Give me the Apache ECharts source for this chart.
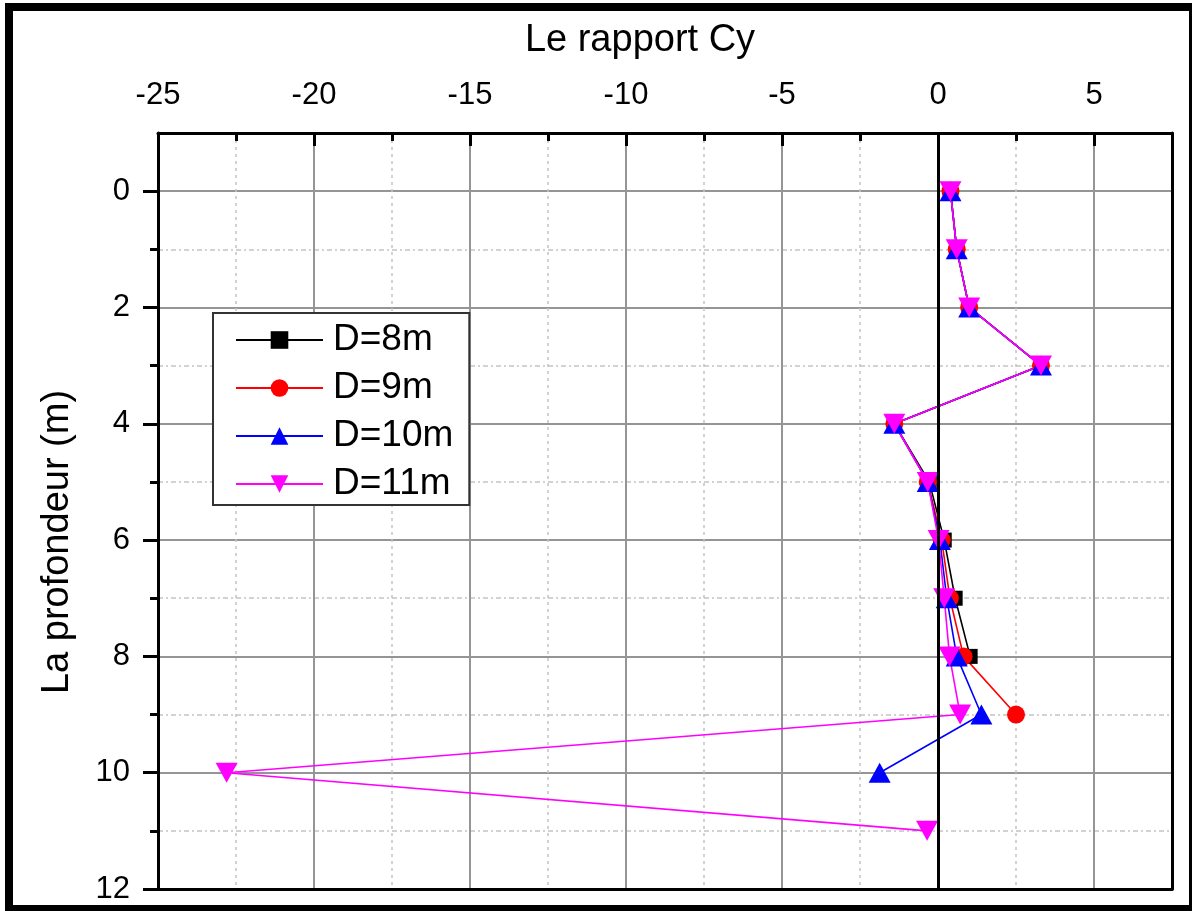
<!DOCTYPE html>
<html>
<head>
<meta charset="utf-8">
<title>Le rapport Cy</title>
<script src="https://cdn.jsdelivr.net/npm/echarts@6/dist/echarts.min.js"></script>
<style>
  html, body { margin: 0; padding: 0; background: #ffffff; }
  #chart { width: 1192px; height: 911px; }
</style>
</head>
<body>
<div id="chart"></div>
<script>
// Depth (m) for every measured level
const depths = [0, 1, 2, 3, 4, 5, 6, 7, 8, 9, 10, 11];

// Cy ratio per pile length D
const cyD8  = [0.40, 0.60, 1.00, 3.30, -1.40, -0.28, 0.20, 0.55, 1.03];
const cyD9  = [0.40, 0.60, 1.00, 3.30, -1.40, -0.33, 0.12, 0.38, 0.82, 2.50];
const cyD10 = [0.40, 0.60, 1.00, 3.30, -1.40, -0.33, 0.06, 0.28, 0.60, 1.39, -1.87];
const cyD11 = [0.40, 0.60, 1.00, 3.30, -1.40, -0.33, 0.02, 0.20, 0.37, 0.71, -22.80, -0.35];

const seriesNames = ['D=8m', 'D=9m', 'D=10m', 'D=11m'];

// Tick positions
const xMajorTicks = [-25, -20, -15, -10, -5, 0, 5];
const xMinorTicks = [-22.5, -17.5, -12.5, -7.5, -2.5, 2.5];
const yMajorTicks = [0, 2, 4, 6, 8, 10, 12];
const yMinorTicks = [1, 3, 5, 7, 9, 11];

const FONT = 'Liberation Sans, Arial, sans-serif';

function pairs(values) {
  return values.map((v, i) => [v, depths[i]]);
}

const chart = echarts.init(document.getElementById('chart'), null, { renderer: 'canvas' });

const majorGrid = { show: true, lineStyle: { color: '#959595', width: 2, type: 'solid' } };
const minorGridH = { show: true, lineStyle: { color: '#c4c4c4', width: 1.5, type: [5, 3, 2, 3] } };
const minorGridV = { show: true, lineStyle: { color: '#c4c4c4', width: 1.5, type: [3, 4] } };

const option = {
  backgroundColor: '#ffffff',
  animation: false,
  textStyle: { fontFamily: FONT },
  grid: { left: 158, top: 133, right: 20, bottom: 22, containLabel: false },
  legend: {
    data: seriesNames,
    orient: 'vertical',
    left: 213,
    top: 313,
    padding: [7, 16, 1, 22],
    itemWidth: 87,
    itemHeight: 22,
    itemGap: 8,
    backgroundColor: '#ffffff',
    borderColor: '#333333',
    borderWidth: 2,
    borderRadius: 0,
    textStyle: { fontSize: 37, lineHeight: 40, color: '#000000', fontFamily: FONT, padding: [0, 0, 0, 5] }
  },
  xAxis: [
    {
      type: 'value', position: 'top', min: -25, max: 7.5, interval: 2.5,
      name: 'Le rapport Cy', nameLocation: 'middle', nameGap: 73, nameMoveOverlap: false,
      nameTextStyle: { fontSize: 38, color: '#000000', fontFamily: FONT, padding: [0, 50, 0, 0] },
      axisLine: { show: true, onZero: false, lineStyle: { color: '#000000', width: 3 } },
      axisTick: { show: true, inside: true, length: 13, customValues: xMajorTicks, lineStyle: { color: '#000000', width: 3 } },
      axisLabel: { show: true, customValues: xMajorTicks, fontSize: 31, color: '#000000', margin: 22, fontFamily: FONT },
      splitLine: majorGrid
    },
    {
      type: 'value', position: 'top', min: -25, max: 7.5, interval: 2.5,
      axisLine: { show: false, onZero: false },
      axisTick: { show: true, inside: true, length: 8, customValues: xMinorTicks, lineStyle: { color: '#000000', width: 3 } },
      axisLabel: { show: false },
      splitLine: minorGridV
    },
    {
      type: 'value', position: 'bottom', min: -25, max: 7.5, interval: 2.5,
      axisLine: { show: true, onZero: false, lineStyle: { color: '#000000', width: 3 } },
      axisTick: { show: false }, axisLabel: { show: false }, splitLine: { show: false }
    }
  ],
  yAxis: [
    {
      type: 'value', position: 'left', inverse: true, min: -1, max: 12, interval: 1,
      name: 'La profondeur (m)', nameLocation: 'middle', nameGap: 81, nameRotate: 90, nameMoveOverlap: false,
      nameTextStyle: { fontSize: 38, color: '#000000', fontFamily: FONT, padding: [0, 62, 0, 0] },
      axisLine: { show: true, onZero: false, lineStyle: { color: '#000000', width: 3 } },
      axisTick: { show: true, inside: false, length: 15, customValues: yMajorTicks, lineStyle: { color: '#000000', width: 3 } },
      axisLabel: { show: true, customValues: yMajorTicks, fontSize: 31, color: '#000000', margin: 28, fontFamily: FONT },
      splitLine: majorGrid
    },
    {
      type: 'value', position: 'left', inverse: true, min: -1, max: 12, interval: 1,
      axisLine: { show: false, onZero: false },
      axisTick: { show: true, inside: false, length: 8, customValues: yMinorTicks, lineStyle: { color: '#000000', width: 3 } },
      axisLabel: { show: false },
      splitLine: minorGridH
    },
    {
      type: 'value', position: 'right', inverse: true, min: -1, max: 12, interval: 1,
      axisLine: { show: true, onZero: false, lineStyle: { color: '#000000', width: 3 } },
      axisTick: { show: false }, axisLabel: { show: false }, splitLine: { show: false }
    }
  ],
  series: [
    {
      name: 'D=8m', type: 'line', xAxisIndex: 0, yAxisIndex: 0,
      data: pairs(cyD8),
      symbol: 'rect', symbolSize: 15,
      lineStyle: { color: '#000000', width: 1.6 },
      itemStyle: { color: '#000000' },
      markLine: {
        silent: true, symbol: ['none', 'none'], label: { show: false },
        lineStyle: { color: '#000000', width: 3, type: 'solid' },
        emphasis: { disabled: true },
        data: [{ xAxis: 0 }]
      }
    },
    {
      name: 'D=9m', type: 'line', xAxisIndex: 0, yAxisIndex: 0,
      data: pairs(cyD9),
      symbol: 'circle', symbolSize: 18,
      lineStyle: { color: '#ff0000', width: 1.6 },
      itemStyle: { color: '#ff0000' }
    },
    {
      name: 'D=10m', type: 'line', xAxisIndex: 0, yAxisIndex: 0,
      data: pairs(cyD10),
      symbol: 'triangle', symbolSize: [22, 20],
      lineStyle: { color: '#0000ff', width: 1.6 },
      itemStyle: { color: '#0000ff' }
    },
    {
      name: 'D=11m', type: 'line', xAxisIndex: 0, yAxisIndex: 0,
      data: pairs(cyD11),
      symbol: 'triangle', symbolSize: [22, 20], symbolRotate: 180,
      lineStyle: { color: '#ff00ff', width: 1.6 },
      itemStyle: { color: '#ff00ff' }
    }
  ],
  graphic: [
    {
      type: 'rect', silent: true, z: 100,
      shape: { x: 9, y: 7, width: 1184, height: 902 },
      style: { fill: 'none', stroke: '#000000', lineWidth: 8 }
    }
  ]
};

chart.setOption(option);
</script>
</body>
</html>
